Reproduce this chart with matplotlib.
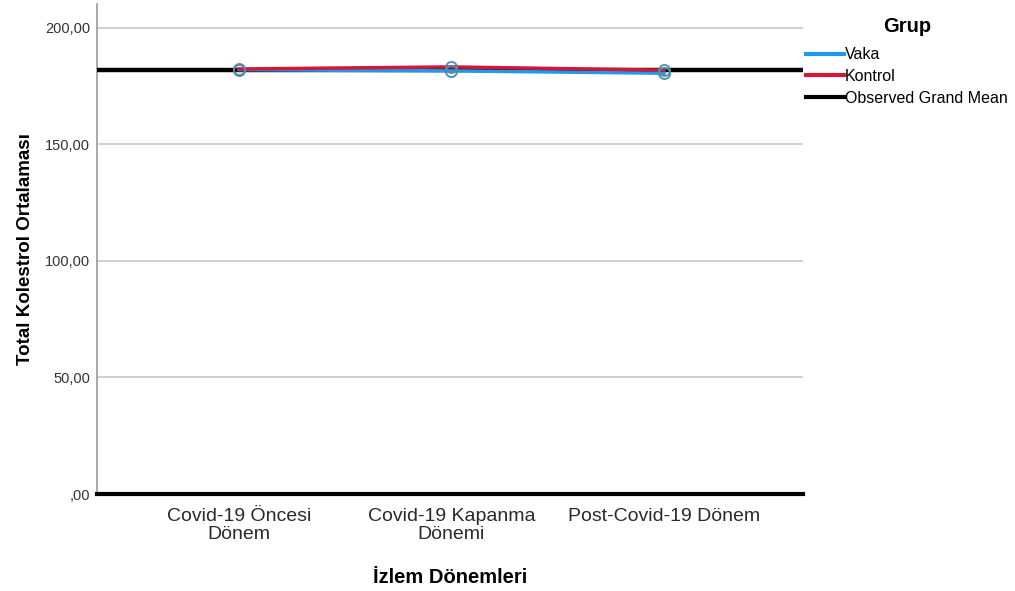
import matplotlib
matplotlib.use("Agg")
import matplotlib.pyplot as plt
from matplotlib.lines import Line2D

plt.rcParams['font.family'] = ['Liberation Sans', 'DejaVu Sans']

categories = ["Covid-19 Öncesi\nDönem", "Covid-19 Kapanma\nDönemi", "Post-Covid-19 Dönem"]
vaka = [182.1, 181.6, 180.6]
kontrol = [182.4, 183.3, 181.9]
grand_mean = 181.9
yticks = [0, 50, 100, 150, 200]
yticklabels = [",00", "50,00", "100,00", "150,00", "200,00"]

fig = plt.figure(figsize=(10.15, 5.91), dpi=100)
ax = fig.add_axes([97/1015, 1 - 494/591, (803-97)/1015, (494-4)/591])

x = list(range(len(categories)))
ax.axhline(grand_mean, color="black", lw=3.2, zorder=3)
ax.plot(x, vaka, color="#1f9ae8", lw=2.5, zorder=4)
ax.plot(x, kontrol, color="#d2173b", lw=2.5, zorder=4)
ax.plot(x, vaka, ls="none", marker="o", ms=8, mfc="none", mec="#3d8db5", mew=1.3, zorder=5)
ax.plot(x, kontrol, ls="none", marker="o", ms=8, mfc="none", mec="#5a8aa3", mew=1.3, zorder=5)

ax.set_xlim(-0.668, 2.654)
ax.set_ylim(0, 210.3)
ax.set_yticks(yticks)
ax.set_yticklabels(yticklabels, fontsize=10.5, color="#333333")
ax.set_xticks(x)
ax.set_xticklabels(categories, fontsize=14, color="#2a2a2a", linespacing=1.1)
ax.tick_params(axis="both", length=0, pad=5)
ax.tick_params(axis="x", pad=10)
ax.grid(axis="y", color="#c8c8c8", lw=1.2)
ax.set_axisbelow(True)
for s in ["top", "right"]:
    ax.spines[s].set_visible(False)
ax.spines["left"].set_color("#999999")
ax.spines["left"].set_linewidth(1.2)
ax.spines["bottom"].set_color("black")
ax.spines["bottom"].set_linewidth(3)
ax.spines["bottom"].set_zorder(6)

ax.set_ylabel("Total Kolestrol Ortalaması", fontsize=13.5, fontweight="bold", labelpad=8)
ax.set_xlabel("İzlem Dönemleri", fontsize=14.5, fontweight="bold", labelpad=18)

handles = [Line2D([], [], color="#1f9ae8", lw=3),
           Line2D([], [], color="#d2173b", lw=3),
           Line2D([], [], color="black", lw=3)]
leg = fig.legend(handles, ["Vaka", "Kontrol", "Observed Grand Mean"],
                 title="Grup", loc="upper left", bbox_to_anchor=(806/1015, 1 - 17/591),
                 frameon=False, fontsize=11.5, handlelength=2.4, handletextpad=0.05,
                 labelspacing=0.42, borderaxespad=0, borderpad=0)
leg.get_title().set_fontweight("bold")
leg.get_title().set_fontsize(14.5)
leg._legend_box.align = "center"
leg._legend_box.sep = 8

fig.savefig("out.png", dpi=100)
